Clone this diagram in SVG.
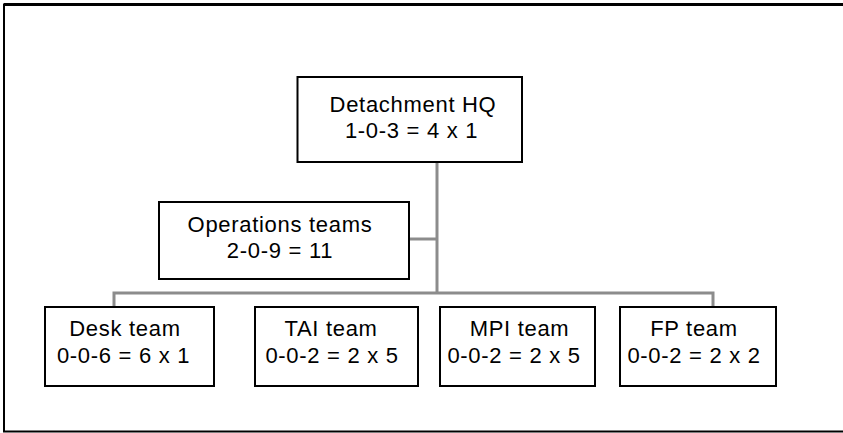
<svg xmlns="http://www.w3.org/2000/svg" width="843" height="433" viewBox="0 0 843 433">
<style>
.frame{fill:none;stroke:#000;stroke-width:2}
.box{fill:#fff;stroke:#000;stroke-width:2}
.conn{fill:none;stroke:#8c8c8c;stroke-width:3}
text{font-family:"Liberation Sans",Arial,sans-serif;font-size:22px;fill:#000;text-anchor:middle;letter-spacing:0.7px}
</style>
<rect width="843" height="433" fill="#fff"/>
<path class="frame" d="M843,4.5 H4 V431.5 H843"/>
<path d="M4,4.5 H843" stroke="#000" stroke-width="3"/>
<g id="connectors">
<path class="conn" d="M437,162 V293"/>
<path class="conn" d="M409,239 H437"/>
<path class="conn" d="M114,307 V293 H713 V307"/>
</g>
<g id="hq">
<rect class="box" x="297.5" y="77" width="224.5" height="85"/>
<text x="413" y="111.5">Detachment HQ</text>
<text x="411.5" y="138">1-0-3 = 4 x 1</text>
</g>
<g id="ops">
<rect class="box" x="159" y="202" width="250" height="77"/>
<text x="280" y="232">Operations teams</text>
<text x="280" y="257.5">2-0-9 = 11</text>
</g>
<g id="desk">
<rect class="box" x="45" y="307" width="169" height="79"/>
<text x="125" y="336">Desk team</text>
<text x="123.5" y="362.5">0-0-6 = 6 x 1</text>
</g>
<g id="tai">
<rect class="box" x="255" y="307" width="163" height="79"/>
<text x="331" y="336">TAI team</text>
<text x="332" y="362.5">0-0-2 = 2 x 5</text>
</g>
<g id="mpi">
<rect class="box" x="440" y="307" width="155" height="79"/>
<text x="519.5" y="336">MPI team</text>
<text x="514" y="362.5">0-0-2 = 2 x 5</text>
</g>
<g id="fp">
<rect class="box" x="620" y="307" width="156" height="79"/>
<text x="694" y="336">FP team</text>
<text x="694" y="362.5">0-0-2 = 2 x 2</text>
</g>
</svg>
